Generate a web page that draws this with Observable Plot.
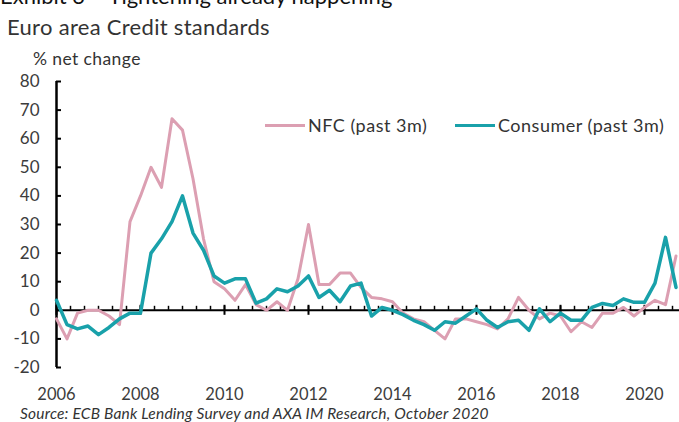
<!DOCTYPE html>
<html><head><meta charset="utf-8">
<script src="https://cdn.jsdelivr.net/npm/d3@7"></script>
<script src="https://cdn.jsdelivr.net/npm/@observablehq/plot@0.6"></script>
<style>
html,body{margin:0;padding:0;background:#fff}
#wrap{position:relative;width:679px;height:422px;overflow:hidden;font-family:Lato,"Open Sans",sans-serif;color:#3c3c3c}
.abs{position:absolute;white-space:nowrap}
#exhibit{left:0;top:-17px;font-size:22px;line-height:26px;color:#111}
#title{left:7px;top:14px;font-size:22px;line-height:26px;letter-spacing:0.3px;color:#333}
#sub{left:33px;top:50px;font-size:17.5px;line-height:18px;letter-spacing:0.4px;color:#333}
#chart{position:absolute;left:0;top:66px}
#legend{left:0;top:115px;font-size:18px;line-height:20px;letter-spacing:0.5px;color:#333}
.item{position:absolute;top:0;display:flex;align-items:center}
.swatch{display:inline-block;width:40px;height:3px;margin-right:3px}
#source{left:20px;top:405px;font-size:15.5px;line-height:16px;letter-spacing:0.2px;font-style:italic;color:#333}
</style></head><body>
<div id="wrap">
  <div class="abs" id="exhibit">Exhibit 3 – Tightening already happening</div>
  <div class="abs" id="title">Euro area Credit standards</div>
  <div class="abs" id="sub">% net change</div>
  <div id="chart"></div>
  <div class="abs" id="legend"></div>
  <div class="abs" id="source">Source: ECB Bank Lending Survey and AXA IM Research, October 2020</div>
</div>
<script>
// ---- data ----
const years = [2006,2007,2008,2009,2010,2011,2012,2013,2014,2015,2016,2017,2018,2019,2020];
const quarterNames = ["Q1","Q2","Q3","Q4"];
// NFC credit standards, past 3 months (% net tightening), quarterly 2006Q1–2020Q4
const nfc = [
  -3, -10, -1, 0, 0, -2, -5, 31,
  40, 50, 43, 67, 63, 46, 25, 10,
  7.5, 3.5, 9, 2, 0, 3, 0, 11,
  30, 9, 9, 13, 13, 8, 4.5, 4,
  3, -1, -3, -4, -7, -10, -3, -3,
  -4, -5, -6.5, -3, 4.5, 0, -3, -1,
  -2, -7.5, -4, -6, -1, -1, 1, -2,
  1, 3.5, 2, 19
];
// Consumer credit standards, past 3 months
const consumer = [
  3.5, -5, -6.5, -5.5, -8.5, -6, -3, -1,
  -1, 20, 25, 31, 40, 27, 21, 12,
  9.5, 11, 11, 2.5, 4, 7.5, 6.5, 8.5,
  12, 4.5, 7, 3, 8.5, 9.5, -2, 1,
  0, -1.5, -3.5, -5, -7, -4, -4.5, -2,
  0.5, -3.5, -6, -4, -3.5, -7, 0.5, -4,
  -1, -3.5, -3.5, 1, 2.4, 1.7, 4, 2.8,
  2.8, 9.5, 25.5, 8
];
const yTicks = [-20,-10,0,10,20,30,40,50,60,70,80];
const xTickYears = [2006,2008,2010,2012,2014,2016,2018,2020];
const seriesNames = ["NFC (past 3m)", "Consumer (past 3m)"];
const colors = ["#dc9fb2", "#19a1aa"];

// ---- table ----
const quarters = years.flatMap(y => quarterNames.map((q, k) => ({label: y + q, t: y + k / 4})));
const rows = quarters.map((q, i) => ({t: q.t, nfc: nfc[i], consumer: consumer[i]}));
const xDomain = [2006, 2020 + 10 / 12];
const minorTicks = d3.range(xDomain[0], xDomain[1], 1 / 3);

const chart = Plot.plot({
  width: 679, height: 338,
  marginLeft: 56, marginRight: 0, marginTop: 15, marginBottom: 37,
  x: {type: "linear", domain: xDomain},
  y: {domain: [-20, 80]},
  style: {fontFamily: "Lato, 'Open Sans', sans-serif", fontSize: "17px", color: "#3c3c3c", background: "transparent", overflow: "visible"},
  marks: [
    Plot.axisY({ticks: yTicks, tickSize: 0, tickPadding: 17, tickFormat: d => String(d), label: null}),
    Plot.axisX({ticks: xTickYears, tickSize: 0, tickPadding: 21, tickFormat: d => String(d), label: null, fontSize: 16.5}),
    Plot.ruleY([0], {stroke: "#000", strokeWidth: 2}),
    Plot.ruleX(minorTicks, {y1: 0, y2: 0, insetTop: -4, stroke: "#000", strokeWidth: 1.5}),
    Plot.ruleX(xTickYears, {y1: 0, y2: 0, insetTop: -5, insetBottom: -5, stroke: "#000", strokeWidth: 2}),
    Plot.ruleY(yTicks, {x1: xDomain[0], x2: xDomain[0], insetRight: -5, stroke: "#000", strokeWidth: 2}),
    Plot.ruleX([xDomain[0]], {y1: -20, y2: 80, stroke: "#000", strokeWidth: 2.5}),
    Plot.line(rows, {x: "t", y: "nfc", stroke: colors[0], strokeWidth: 3, strokeLinejoin: "round"}),
    Plot.line(rows, {x: "t", y: "consumer", stroke: colors[1], strokeWidth: 3.5, strokeLinejoin: "round"})
  ]
});
document.getElementById("chart").appendChild(chart);

// legend
const legend = document.getElementById("legend");
const legendLeft = [265, 455];
seriesNames.forEach((name, i) => {
  const item = document.createElement("div");
  item.className = "item";
  item.style.left = legendLeft[i] + "px";
  const sw = document.createElement("span");
  sw.className = "swatch";
  sw.style.background = colors[i];
  item.appendChild(sw);
  item.appendChild(document.createTextNode(name));
  legend.appendChild(item);
});
</script>
</body></html>
